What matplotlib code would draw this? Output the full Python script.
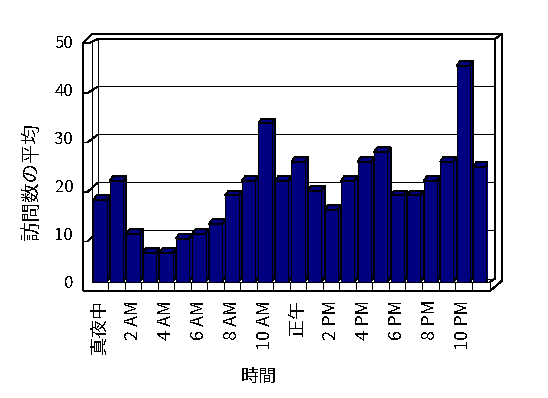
import matplotlib
matplotlib.use("Agg")
import matplotlib.pyplot as plt
from matplotlib.patches import Polygon
import numpy as np

plt.rcParams['font.family'] = ['Noto Sans CJK JP', 'DejaVu Sans']
plt.rcParams['text.antialiased'] = False
plt.rcParams['lines.antialiased'] = False
plt.rcParams['patch.antialiased'] = False

# average visits per hour
visits = [17, 21, 10, 6, 6, 9, 10, 12, 18, 21, 33, 21,
          25, 19, 15, 21, 25, 27, 18, 18, 21, 25, 45, 24]
hour_labels = ["真夜中", "2 AM", "4 AM", "6 AM", "8 AM", "10 AM",
               "正午", "2 PM", "4 PM", "6 PM", "8 PM", "10 PM"]
y_ticks = [0, 10, 20, 30, 40, 50]

W, H = 548, 398
LW = 0.72  # one pixel
fig = plt.figure(figsize=(W / 100, H / 100), dpi=100)

# front plane of the bars, in pixels
x0_px, x1_px = 91.6, 488.1
y0_px, y1_px = 281.7, 41.7
ax = fig.add_axes([x0_px / W, 1 - y0_px / H,
                   (x1_px - x0_px) / W, (y0_px - y1_px) / H])
n = len(visits)
ax.set_xlim(-0.5, n - 0.5)
ax.set_ylim(0, 50)
ppx = (x1_px - x0_px) / n
ppy = (y0_px - y1_px) / 50


def px(xp, yp):
    return -0.5 + (xp - x0_px) / ppx, (y0_px - yp) / ppy


def line(points, **kw):
    pts = [px(*p) for p in points]
    ax.plot([p[0] for p in pts], [p[1] for p in pts], color="black",
            lw=LW, clip_on=False, solid_capstyle="butt", **kw)


# walls and floor
line([(83, 291), (83, 43), (92, 34), (501.7, 34), (501.7, 281), (490, 291), (83, 291)], zorder=1)
line([(83, 43), (89.5, 43), (98, 39), (495, 39), (501.7, 34)], zorder=1)
line([(91.5, 281.7), (91.5, 43)], zorder=1)
line([(98, 39), (98, 278.5), (495, 278.5)], zorder=1)
line([(495, 39), (495, 278.5), (490, 281.7)], zorder=1)
line([(91.5, 281.7), (490, 281.7), (490, 291)], zorder=4)

for v in y_ticks[1:-1]:
    line([(83, 291 - 4.95 * v), (87.5, 291 - 4.95 * v), (98, 278.5 - 4.8 * v),
          (495, 278.5 - 4.8 * v)], zorder=1)

# floor ticks between categories
for k in range(1, n):
    _, yb = px(0, 291)
    ax.plot([k - 0.5, k - 0.5], [0, yb], color="black", lw=LW, clip_on=False, zorder=4)

# 3D bars
width = 0.805
ddx = 3.4 / ppx
ddy = 4.7 / ppy
idx = np.arange(n)
ax.bar(idx, visits, width=width, color="#000080", edgecolor="black", lw=LW, zorder=3)
for i, v in zip(idx, visits):
    l, r = i - width / 2, i + width / 2
    top = Polygon([(l, v), (r, v), (r + ddx, v + ddy), (l + ddx, v + ddy)],
                  closed=True, fc="#000080", ec="black", lw=LW, zorder=2.5)
    side = Polygon([(r, 0), (r, v), (r + ddx, v + ddy), (r + ddx, ddy)],
                   closed=True, fc="#000080", ec="black", lw=LW, zorder=2.5)
    ax.add_patch(side)
    ax.add_patch(top)

for s in ax.spines.values():
    s.set_visible(False)
ax.set_yticks(y_ticks)
ax.set_xticks(idx[::2])
ax.set_xticklabels(hour_labels, rotation=90, fontsize=13)
ax.tick_params(axis="x", length=0, pad=13)
ax.tick_params(axis="y", length=0, pad=13, labelsize=12)

fig.text(32 / W, 1 - 181 / H, "訪問数の平均", rotation=90, ha="center", va="center", fontsize=14)
fig.text(259 / W, 1 - 377 / H, "時間", ha="center", va="center", fontsize=13)

fig.savefig("out.png", dpi=100)
